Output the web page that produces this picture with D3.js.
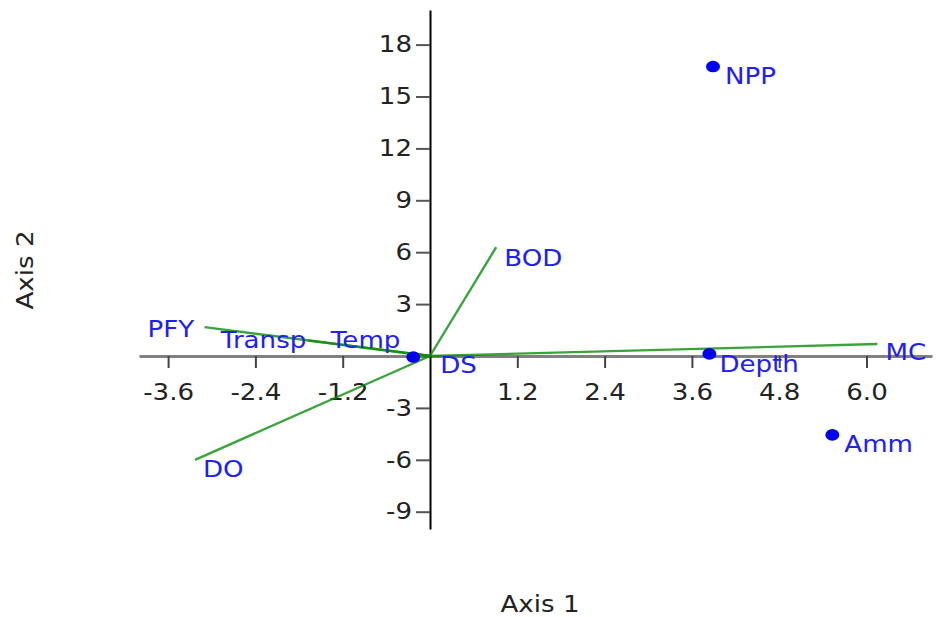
<!DOCTYPE html>
<html>
<head>
<meta charset="utf-8">
<script src="https://cdn.jsdelivr.net/npm/d3@7/dist/d3.min.js"></script>
<style>
  html, body { margin: 0; padding: 0; background: #fff; }
  svg { display: block; }
  text { font-family: "DejaVu Sans", Verdana, sans-serif; }
</style>
</head>
<body>
<svg id="chart" width="937" height="617"></svg>
<script>
// Row scores (points)
const pointNames = ["NPP", "Depth", "Amm", "DS"];
const pointX = [3.89, 3.84, 5.53, -0.23];
const pointY = [16.73, 0.12, -4.56, -0.06];

// Variable loadings (vectors from the origin)
const vectorNames = ["PFY", "Transp", "Temp", "DO", "BOD", "MC"];
const vectorX = [-3.10, -1.68, -0.25, -3.23, 0.91, 6.15];
const vectorY = [1.67, 0.90, 0.13, -6.00, 6.29, 0.69];

// Tick labels
const xTicks = [-3.6, -2.4, -1.2, 1.2, 2.4, 3.6, 4.8, 6.0];
const yTicks = [-9, -6, -3, 3, 6, 9, 12, 15, 18];

// Label placement (pixel offsets of each label from its mark)
const pointLabelOffset = { NPP: [12, 17], Depth: [10, 18], Amm: [12, 17], DS: [27, 16] };
const vectorLabelOffset = { PFY: [-57, 10], Transp: [-87, 8], Temp: [-81, -6], DO: [8, 17], BOD: [8, 19], MC: [8, 16] };

const FONT = 22.5, STRETCH = 1.16;
const svg = d3.select("#chart");

const x = d3.scaleLinear().domain([-4, 6.9]).range([139, 932]);
const y = d3.scaleLinear().domain([-10, 20]).range([529, 10]);

function label(g, px, py, str, color, anchor) {
  return g.append("text")
    .attr("transform", `translate(${px},${py}) scale(${STRETCH},1)`)
    .attr("text-anchor", anchor || "start")
    .attr("font-size", FONT)
    .attr("fill", color)
    .text(str);
}

// Horizontal axis through y = 0
const xAxis = svg.append("g")
  .attr("transform", `translate(0,${y(0)})`)
  .call(d3.axisBottom(x).tickValues(xTicks).tickSizeInner(12).tickSizeOuter(0)
    .tickPadding(16).tickFormat(d3.format(".1f")));
xAxis.select(".domain").attr("stroke", "#808080").attr("stroke-width", 3);
xAxis.selectAll(".tick line").attr("stroke", "#444").attr("stroke-width", 2);
xAxis.selectAll(".tick text")
  .attr("font-size", FONT).attr("font-family", "DejaVu Sans, sans-serif").attr("fill", "#222")
  .attr("transform", function() {
    const yy = +d3.select(this).attr("y");
    return `translate(0,${yy}) scale(${STRETCH},1)`;
  })
  .attr("y", 0)
  .text(d => d3.format(".1f")(d).replace("−", "-"));

// Vertical axis through x = 0
const yAxis = svg.append("g")
  .attr("transform", `translate(${x(0)},0)`)
  .call(d3.axisLeft(y).tickValues(yTicks).tickSizeInner(14).tickSizeOuter(0)
    .tickPadding(4).tickFormat(d => String(d)));
yAxis.select(".domain").attr("stroke", "#000").attr("stroke-width", 2);
yAxis.selectAll(".tick line").attr("stroke", "#555").attr("stroke-width", 2);
yAxis.selectAll(".tick text")
  .attr("font-size", FONT).attr("font-family", "DejaVu Sans, sans-serif").attr("fill", "#222")
  .attr("transform", function() {
    const xx = +d3.select(this).attr("x");
    return `translate(${xx},0) scale(${STRETCH},1)`;
  })
  .attr("x", 0);

// Axis titles
label(svg, 540, 612, "Axis 1", "#222", "middle");
svg.append("text")
  .attr("transform", `translate(33,270) rotate(-90) scale(${STRETCH},1)`)
  .attr("text-anchor", "middle")
  .attr("font-size", FONT)
  .attr("fill", "#222")
  .text("Axis 2");

// Variable vectors
const vectors = vectorNames.map((n, i) => ({ name: n, vx: vectorX[i], vy: vectorY[i] }));
svg.append("g").selectAll("line").data(vectors).join("line")
  .attr("x1", x(0)).attr("y1", y(0))
  .attr("x2", d => x(d.vx)).attr("y2", d => y(d.vy))
  .attr("stroke", "rgb(10,140,10)")
  .attr("stroke-opacity", 0.8)
  .attr("stroke-width", 2.4);

// Point markers
const points = pointNames.map((n, i) => ({ name: n, px: pointX[i], py: pointY[i] }));
svg.append("g").selectAll("ellipse").data(points).join("ellipse")
  .attr("cx", d => x(d.px)).attr("cy", d => y(d.py))
  .attr("rx", 7).attr("ry", 5.8)
  .attr("fill", "#0000ee");

// Labels
const labels = svg.append("g");
vectors.forEach(d => {
  const o = vectorLabelOffset[d.name];
  label(labels, x(d.vx) + o[0], y(d.vy) + o[1], d.name, "#2020f0");
});
points.forEach(d => {
  const o = pointLabelOffset[d.name];
  label(labels, x(d.px) + o[0], y(d.py) + o[1], d.name, "#2020f0");
});
</script>
</body>
</html>
